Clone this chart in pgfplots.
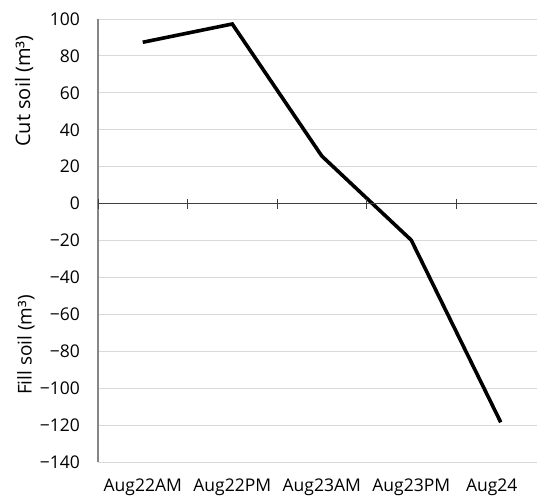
\documentclass[border=0pt]{standalone}
\usepackage{pgfplots}
\pgfplotsset{compat=1.18}
\usepackage{fontspec}
\setmainfont{Open Sans}
\definecolor{gridc}{HTML}{D9D9D9}
\definecolor{axc}{HTML}{868686}
\definecolor{zeroc}{HTML}{404040}
\begin{document}
\fontsize{17.5}{21}\selectfont
\begin{tikzpicture}
\useasboundingbox (-98pt,-37pt) rectangle (439pt,462pt);
\begin{axis}[
  at={(0,0)}, anchor=south west, scale only axis,
  width=439pt, height=443pt,
  xmin=-0.5, xmax=4.405, ymin=-140, ymax=100,
  ytick={-140,-120,...,100},
  yticklabels={−140,−120,−100,−80,−60,−40,−20,0,20,40,60,80,100},
  xtick={0,1,2,3,4},
  xticklabels={Aug22AM,Aug22PM,Aug23AM,Aug23PM,{\hspace*{-18pt}Aug24}},
  ymajorgrids, grid style={gridc, line width=0.9pt},
  axis x line*=bottom, axis y line*=left,
  x axis line style={draw=none},
  y axis line style={axc, line width=1.4pt, -},
  major tick length=0pt, tick style={draw=none},
  xticklabel style={yshift=-11pt},
  yticklabel style={xshift=-12pt},
  clip=false,
]
\addplot[black, line width=3.6pt] coordinates {(0,87.4) (1,97.3) (2,25.8) (3,-19.8) (4,-118.5)};
\end{axis}
\begin{axis}[
  at={(0,0)}, anchor=south west, scale only axis,
  width=439pt, height=443pt,
  xmin=-0.5, xmax=4.405, ymin=-140, ymax=100,
  axis x line=middle, axis y line=none,
  xtick={-0.5,0.5,1.5,2.5,3.5}, xticklabels={},
  ytick=\empty,
  major tick length=10pt, tick align=center,
  x axis line style={-, zeroc, line width=1pt},
  xtick style={zeroc, line width=1pt},
]
\end{axis}
\node[rotate=90, inner sep=0pt] at (-74pt,371pt) {\fontsize{20}{24}\selectfont Cut soil (m³)};
\node[rotate=90, inner sep=0pt] at (-72pt,117pt) {\fontsize{19}{23}\selectfont Fill soil (m³)};
\end{tikzpicture}
\end{document}
